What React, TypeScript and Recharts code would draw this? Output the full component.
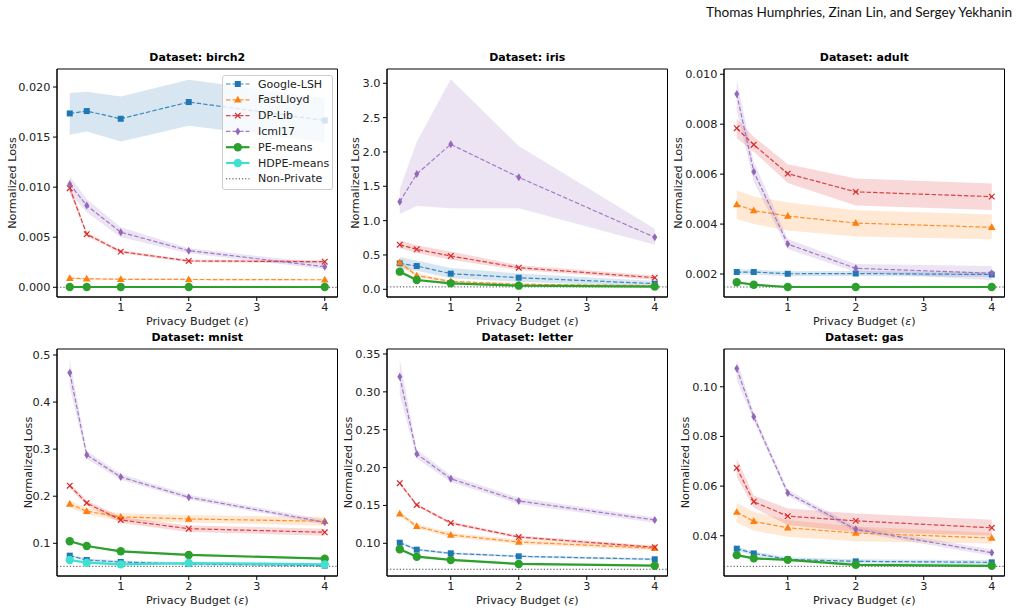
import React from "react";
import {
  ComposedChart,
  Line,
  Area,
  XAxis,
  YAxis,
  ReferenceLine,
  ReferenceArea,
} from "recharts";

// privacy budgets on the x axis
const EPS = [0.25, 0.5, 1, 2, 4];
const X_TICKS = [1, 2, 3, 4];
const X_DOMAIN: [number, number] = [0.0625, 4.1875];

// ---- birch2 ----
const birch2Lsh = [0.01736, 0.0176, 0.01683, 0.0185, 0.01666];
const birch2LshBand = [[0.01523, 0.0194], [0.01556, 0.01953], [0.01456, 0.01906], [0.01613, 0.02073], [0.01446, 0.0189]];
const birch2Fast = [0.0009, 0.00085, 0.0008, 0.00078, 0.00075];
const birch2FastBand = [[0.0008, 0.001], [0.00077, 0.00093], [0.00073, 0.00087], [0.0007, 0.00086], [0.00068, 0.00082]];
const birch2Dplib = [0.0099, 0.0053, 0.00356, 0.00263, 0.00256];
const birch2DplibBand = [[0.0095, 0.0103], [0.0051, 0.0055], [0.0034, 0.0037], [0.0025, 0.00275], [0.0024, 0.0027]];
const birch2Icml = [0.0103, 0.00816, 0.0055, 0.00366, 0.00206];
const birch2IcmlBand = [[0.0094, 0.0111], [0.0075, 0.0088], [0.005, 0.006], [0.0034, 0.0039], [0.0018, 0.0024]];
const birch2Pe = [0.00003, 0.00003, 0.00003, 0.00003, 0.00003];
const birch2PeBand = [[0.0, 0.00006], [0.0, 0.00006], [0.0, 0.00006], [0.0, 0.00006], [0.0, 0.00006]];
const birch2NonPrivate = 0.0;

// ---- iris ----
const irisLsh = [0.378, 0.339, 0.228, 0.169, 0.082];
const irisLshBand = [[0.3, 0.47], [0.27, 0.42], [0.16, 0.31], [0.11, 0.23], [0.04, 0.12]];
const irisFast = [0.39, 0.199, 0.116, 0.073, 0.053];
const irisFastBand = [[0.35, 0.43], [0.17, 0.23], [0.1, 0.13], [0.06, 0.085], [0.045, 0.06]];
const irisDplib = [0.65, 0.582, 0.485, 0.315, 0.169];
const irisDplibBand = [[0.6, 0.71], [0.53, 0.64], [0.43, 0.55], [0.28, 0.35], [0.14, 0.2]];
const irisIcml = [1.276, 1.679, 2.111, 1.631, 0.757];
const irisIcmlBand = [[1.097, 1.456], [1.213, 2.15], [1.179, 3.058], [1.18, 2.087], [0.65, 0.883]];
const irisPe = [0.257, 0.135, 0.087, 0.053, 0.039];
const irisPeBand = [[0.235, 0.28], [0.115, 0.155], [0.075, 0.1], [0.045, 0.062], [0.032, 0.046]];
const irisNonPrivate = 0.035;

// ---- adult ----
const adultLsh = [0.00208, 0.00208, 0.00201, 0.00202, 0.00198];
const adultLshBand = [[0.00198, 0.00218], [0.00198, 0.00218], [0.00191, 0.00211], [0.00192, 0.00212], [0.00188, 0.00208]];
const adultFast = [0.00478, 0.00454, 0.00432, 0.00404, 0.00387];
const adultFastBand = [[0.0042, 0.00534], [0.004, 0.0051], [0.00374, 0.00486], [0.0035, 0.00455], [0.00339, 0.00438]];
const adultDplib = [0.00784, 0.00718, 0.00602, 0.00529, 0.0051];
const adultDplibBand = [[0.00745, 0.00822], [0.0069, 0.0075], [0.00565, 0.0064], [0.00474, 0.00583], [0.00456, 0.00563]];
const adultIcml = [0.00921, 0.0061, 0.0032, 0.00223, 0.00203];
const adultIcmlBand = [[0.00857, 0.00977], [0.0057, 0.0065], [0.003, 0.0034], [0.00208, 0.0024], [0.00175, 0.00232]];
const adultPe = [0.00167, 0.00157, 0.00148, 0.00148, 0.00148];
const adultPeBand = [[0.00157, 0.00175], [0.00152, 0.00162], [0.00145, 0.00151], [0.00145, 0.00151], [0.00145, 0.00151]];
const adultNonPrivate = 0.00148;

// ---- mnist ----
const mnistLsh = [0.0737, 0.0645, 0.0603, 0.056, 0.0525];
const mnistLshBand = [[0.0707, 0.0767], [0.0615, 0.0675], [0.0573, 0.0633], [0.053, 0.059], [0.0495, 0.0555]];
const mnistFast = [0.1835, 0.168, 0.156, 0.1517, 0.1467];
const mnistFastBand = [[0.176, 0.191], [0.161, 0.175], [0.148, 0.164], [0.144, 0.16], [0.138, 0.156]];
const mnistDplib = [0.2224, 0.1856, 0.1495, 0.131, 0.1234];
const mnistDplibBand = [[0.217, 0.228], [0.18, 0.191], [0.143, 0.156], [0.124, 0.138], [0.116, 0.131]];
const mnistIcml = [0.462, 0.2876, 0.2408, 0.1977, 0.1446];
const mnistIcmlBand = [[0.4326, 0.491], [0.279, 0.296], [0.235, 0.247], [0.193, 0.203], [0.14, 0.15]];
const mnistPe = [0.1042, 0.0943, 0.083, 0.0752, 0.0674];
const mnistPeBand = [[0.1022, 0.1062], [0.0923, 0.0963], [0.081, 0.085], [0.0732, 0.0772], [0.0654, 0.0694]];
const mnistHdpe = [0.0645, 0.0588, 0.0553, 0.058, 0.0553];
const mnistHdpeBand = [[0.0615, 0.0675], [0.0558, 0.0618], [0.0523, 0.0583], [0.055, 0.061], [0.0523, 0.0583]];
const mnistNonPrivate = 0.0511;

// ---- letter ----
const letterLsh = [0.1008, 0.0916, 0.0868, 0.0828, 0.0789];
const letterLshBand = [[0.0993, 0.1023], [0.0901, 0.0931], [0.0853, 0.0883], [0.0813, 0.0843], [0.0774, 0.0804]];
const letterFast = [0.139, 0.1224, 0.111, 0.1017, 0.0934];
const letterFastBand = [[0.136, 0.142], [0.1194, 0.1254], [0.108, 0.114], [0.0987, 0.1047], [0.0904, 0.0964]];
const letterDplib = [0.1793, 0.1506, 0.1268, 0.1083, 0.0947];
const letterDplibBand = [[0.1773, 0.1813], [0.1486, 0.1526], [0.1248, 0.1288], [0.1063, 0.1103], [0.0927, 0.0967]];
const letterIcml = [0.32, 0.218, 0.1853, 0.1559, 0.1308];
const letterIcmlBand = [[0.296, 0.343], [0.212, 0.224], [0.181, 0.19], [0.152, 0.16], [0.127, 0.134]];
const letterPe = [0.0921, 0.0823, 0.078, 0.0727, 0.0704];
const letterPeBand = [[0.0906, 0.0936], [0.0808, 0.0838], [0.0765, 0.0795], [0.0712, 0.0742], [0.0689, 0.0719]];
const letterNonPrivate = 0.0657;

// ---- gas ----
const gasLsh = [0.0348, 0.0329, 0.0305, 0.0297, 0.0293];
const gasLshBand = [[0.034, 0.0356], [0.0321, 0.0337], [0.0297, 0.0313], [0.0289, 0.0305], [0.0285, 0.0301]];
const gasFast = [0.0495, 0.0458, 0.0432, 0.0411, 0.0391];
const gasFastBand = [[0.0454, 0.0532], [0.042, 0.0496], [0.0396, 0.0463], [0.0378, 0.0437], [0.0369, 0.0412]];
const gasDplib = [0.0673, 0.0537, 0.0479, 0.046, 0.0432];
const gasDplibBand = [[0.0638, 0.071], [0.0513, 0.0562], [0.0443, 0.051], [0.0415, 0.049], [0.0401, 0.0464]];
const gasIcml = [0.1073, 0.0879, 0.0572, 0.0426, 0.0332];
const gasIcmlBand = [[0.1027, 0.111], [0.0862, 0.0895], [0.056, 0.0585], [0.0415, 0.0437], [0.032, 0.0345]];
const gasPe = [0.0322, 0.0309, 0.0303, 0.0283, 0.0279];
const gasPeBand = [[0.0317, 0.0327], [0.0304, 0.0314], [0.0298, 0.0308], [0.0278, 0.0288], [0.0274, 0.0284]];
const gasNonPrivate = 0.0277;

type MethodKey = "lsh" | "fast" | "dplib" | "icml" | "pe" | "hdpe";

const METHODS: Record<MethodKey, { name: string; color: string; marker: string; dashed: boolean }> = {
  lsh: { name: "Google-LSH", color: "#1f77b4", marker: "square", dashed: true },
  fast: { name: "FastLloyd", color: "#ff7f0e", marker: "triangle", dashed: true },
  dplib: { name: "DP-Lib", color: "#d62728", marker: "x", dashed: true },
  icml: { name: "Icml17", color: "#9467bd", marker: "diamond", dashed: true },
  pe: { name: "PE-means", color: "#2ca02c", marker: "circle", dashed: false },
  hdpe: { name: "HDPE-means", color: "#40e0d0", marker: "circle", dashed: false },
};
const ORDER: MethodKey[] = ["lsh", "fast", "dplib", "icml", "pe", "hdpe"];

const FONT = "'DejaVu Sans', sans-serif";
const TEXT = "#222";
const TICK_FONT = 11.3;

function drawMarker(marker: string, color: string, cx: number, cy: number, key?: any) {
  switch (marker) {
    case "square":
      return <rect key={key} x={cx - 3} y={cy - 3} width={6} height={6} fill={color} />;
    case "triangle":
      return <polygon key={key} points={`${cx},${cy - 4} ${cx + 3.8},${cy + 2.7} ${cx - 3.8},${cy + 2.7}`} fill={color} />;
    case "x":
      return (
        <g key={key} stroke={color} strokeWidth={1.2}>
          <line x1={cx - 2.8} y1={cy - 2.8} x2={cx + 2.8} y2={cy + 2.8} />
          <line x1={cx - 2.8} y1={cy + 2.8} x2={cx + 2.8} y2={cy - 2.8} />
        </g>
      );
    case "diamond":
      return <polygon key={key} points={`${cx},${cy - 4} ${cx + 2.5},${cy} ${cx},${cy + 4} ${cx - 2.5},${cy}`} fill={color} />;
    default:
      return <circle key={key} cx={cx} cy={cy} r={4.2} fill={color} />;
  }
}

const makeDot = (marker: string, color: string) => (p: any) => {
  if (p.cx == null || p.cy == null) return <g key={p.index} />;
  return drawMarker(marker, color, p.cx, p.cy, p.index);
};

type Series = { key: MethodKey; mean: number[]; band: number[][] };

type Panel = {
  title: string;
  col: number;
  row: number;
  domain: [number, number];
  ticks: number[];
  digits: number;
  labelOffset: number;
  nonPrivate: number;
  series: Series[];
};

const panels: Panel[] = [
  {
    title: "birch2", col: 0, row: 0, domain: [-0.00097, 0.0218], ticks: [0, 0.005, 0.01, 0.015, 0.02], digits: 3, labelOffset: 45, nonPrivate: birch2NonPrivate,
    series: [
      { key: "lsh", mean: birch2Lsh, band: birch2LshBand },
      { key: "fast", mean: birch2Fast, band: birch2FastBand },
      { key: "dplib", mean: birch2Dplib, band: birch2DplibBand },
      { key: "icml", mean: birch2Icml, band: birch2IcmlBand },
      { key: "pe", mean: birch2Pe, band: birch2PeBand },
    ],
  },
  {
    title: "iris", col: 1, row: 0, domain: [-0.112, 3.208], ticks: [0, 0.5, 1, 1.5, 2, 2.5, 3], digits: 1, labelOffset: 32, nonPrivate: irisNonPrivate,
    series: [
      { key: "lsh", mean: irisLsh, band: irisLshBand },
      { key: "fast", mean: irisFast, band: irisFastBand },
      { key: "dplib", mean: irisDplib, band: irisDplibBand },
      { key: "icml", mean: irisIcml, band: irisIcmlBand },
      { key: "pe", mean: irisPe, band: irisPeBand },
    ],
  },
  {
    title: "adult", col: 2, row: 0, domain: [0.00108, 0.01021], ticks: [0.002, 0.004, 0.006, 0.008, 0.01], digits: 3, labelOffset: 46, nonPrivate: adultNonPrivate,
    series: [
      { key: "lsh", mean: adultLsh, band: adultLshBand },
      { key: "fast", mean: adultFast, band: adultFastBand },
      { key: "dplib", mean: adultDplib, band: adultDplibBand },
      { key: "icml", mean: adultIcml, band: adultIcmlBand },
      { key: "pe", mean: adultPe, band: adultPeBand },
    ],
  },
  {
    title: "mnist", col: 0, row: 1, domain: [0.0305, 0.5127], ticks: [0.1, 0.2, 0.3, 0.4, 0.5], digits: 1, labelOffset: 29, nonPrivate: mnistNonPrivate,
    series: [
      { key: "lsh", mean: mnistLsh, band: mnistLshBand },
      { key: "fast", mean: mnistFast, band: mnistFastBand },
      { key: "dplib", mean: mnistDplib, band: mnistDplibBand },
      { key: "icml", mean: mnistIcml, band: mnistIcmlBand },
      { key: "pe", mean: mnistPe, band: mnistPeBand },
      { key: "hdpe", mean: mnistHdpe, band: mnistHdpeBand },
    ],
  },
  {
    title: "letter", col: 1, row: 1, domain: [0.0568, 0.3566], ticks: [0.1, 0.15, 0.2, 0.25, 0.3, 0.35], digits: 2, labelOffset: 39, nonPrivate: letterNonPrivate,
    series: [
      { key: "lsh", mean: letterLsh, band: letterLshBand },
      { key: "fast", mean: letterFast, band: letterFastBand },
      { key: "dplib", mean: letterDplib, band: letterDplibBand },
      { key: "icml", mean: letterIcml, band: letterIcmlBand },
      { key: "pe", mean: letterPe, band: letterPeBand },
    ],
  },
  {
    title: "gas", col: 2, row: 1, domain: [0.0238, 0.1152], ticks: [0.04, 0.06, 0.08, 0.1], digits: 2, labelOffset: 39, nonPrivate: gasNonPrivate,
    series: [
      { key: "lsh", mean: gasLsh, band: gasLshBand },
      { key: "fast", mean: gasFast, band: gasFastBand },
      { key: "dplib", mean: gasDplib, band: gasDplibBand },
      { key: "icml", mean: gasIcml, band: gasIcmlBand },
      { key: "pe", mean: gasPe, band: gasPeBand },
    ],
  },
];

// layout of the 3x2 grid
const CHART_W = 340;
const Y_AXIS_W = 57;
const COL_LEFT = [0, 330, 667];
const ROWS = [
  { top: 40, height: 290, marginTop: 29, marginBottom: 3 },
  { top: 330, height: 283, marginTop: 19, marginBottom: 7 },
];

const PanelChart = ({ p }: { p: Panel }) => {
  const rowCfg = ROWS[p.row];
  const data = EPS.map((eps, i) => {
    const row: any = { eps };
    p.series.forEach((s) => {
      row[s.key] = s.mean[i];
      row[s.key + "Band"] = s.band[i];
    });
    return row;
  });
  const left = COL_LEFT[p.col];
  const plotW = CHART_W - Y_AXIS_W - 2.5;

  return (
    <div style={{ position: "absolute", left, top: rowCfg.top, width: CHART_W, height: rowCfg.height }}>
      <div
        style={{
          position: "absolute",
          left: Y_AXIS_W,
          width: plotW,
          top: rowCfg.marginTop - 18,
          textAlign: "center",
          fontFamily: FONT,
          fontWeight: "bold",
          fontSize: 11,
          color: "#000",
        }}
      >
        Dataset: {p.title}
      </div>
      <ComposedChart
        width={CHART_W}
        height={rowCfg.height}
        data={data}
        margin={{ top: rowCfg.marginTop, right: 2.5, bottom: rowCfg.marginBottom, left: 0 }}
        style={{ fontFamily: FONT }}
      >
        <XAxis
          type="number"
          dataKey="eps"
          domain={X_DOMAIN}
          ticks={X_TICKS}
          allowDataOverflow
          height={30}
          tickSize={4}
          tickMargin={2}
          stroke="#000"
          tick={{ fontSize: TICK_FONT, fill: TEXT }}
          label={(props: any) => {
            const vb = props.viewBox;
            const cx = vb.x + vb.width / 2;
            return (
              <text x={cx} y={vb.y + 24} textAnchor="middle" dominantBaseline="central" fontSize={11.2} fill={TEXT}>
                Privacy Budget (<tspan fontStyle="italic">ε</tspan>)
              </text>
            );
          }}
        />
        <YAxis
          type="number"
          domain={p.domain}
          ticks={p.ticks}
          allowDataOverflow
          width={Y_AXIS_W}
          tickSize={4}
          tickMargin={2.5}
          stroke="#000"
          tick={{ fontSize: TICK_FONT, fill: TEXT }}
          tickFormatter={(v: number) => v.toFixed(p.digits)}
          label={(props: any) => {
            const vb = props.viewBox;
            const cx = vb.x + vb.width - p.labelOffset;
            const cy = vb.y + vb.height / 2;
            return (
              <text
                x={cx}
                y={cy}
                transform={`rotate(-90 ${cx} ${cy})`}
                textAnchor="middle"
                dominantBaseline="central"
                fontSize={11.2}
                fill={TEXT}
              >
                Normalized Loss
              </text>
            );
          }}
        />
        {p.series.map((s) => (
          <Area
            key={s.key + "-band"}
            type="linear"
            dataKey={s.key + "Band"}
            stroke="none"
            fill={METHODS[s.key].color}
            fillOpacity={0.18}
            dot={false}
            activeDot={false}
            isAnimationActive={false}
          />
        ))}
        <ReferenceLine y={p.nonPrivate} stroke="#444" strokeWidth={1} strokeDasharray="1.2 2" />
        {p.series.map((s) => {
          const m = METHODS[s.key];
          return (
            <Line
              key={s.key}
              type="linear"
              dataKey={s.key}
              stroke={m.color}
              strokeWidth={m.dashed ? 1.2 : 2.2}
              strokeDasharray={m.dashed ? "4.5 2" : undefined}
              strokeOpacity={m.dashed ? 0.85 : 1}
              dot={makeDot(m.marker, m.color)}
              activeDot={false}
              isAnimationActive={false}
            />
          );
        })}
        <ReferenceArea
          x1={X_DOMAIN[0]}
          x2={X_DOMAIN[1]}
          y1={p.domain[0]}
          y2={p.domain[1]}
          fill="none"
          stroke="#000"
          strokeWidth={1}
          ifOverflow="extendDomain"
        />
      </ComposedChart>
    </div>
  );
};

const LEGEND_ROWS = [...ORDER, "nonPrivate"];

const Legend = () => (
  <svg
    style={{ position: "absolute", left: 222, top: 75 }}
    width={111}
    height={115}
    fontFamily={FONT}
  >
    <rect x={0.5} y={0.5} width={110} height={114} rx={2.5} fill="rgba(255,255,255,0.8)" stroke="#ccc" />
    {LEGEND_ROWS.map((k, i) => {
      const y = 9 + i * 15.8;
      if (k === "nonPrivate") {
        return (
          <g key={k}>
            <line x1={4} x2={27.5} y1={y} y2={y} stroke="#444" strokeDasharray="1.2 2" />
            <text x={36} y={y} dominantBaseline="central" fontSize={11} fill={TEXT}>Non-Private</text>
          </g>
        );
      }
      const m = METHODS[k as MethodKey];
      return (
        <g key={k}>
          <line
            x1={4}
            x2={27.5}
            y1={y}
            y2={y}
            stroke={m.color}
            strokeWidth={m.dashed ? 1.2 : 2.2}
            strokeDasharray={m.dashed ? "4.5 2" : undefined}
            strokeOpacity={m.dashed ? 0.85 : 1}
          />
          {drawMarker(m.marker, m.color, 15.8, y)}
          <text x={36} y={y} dominantBaseline="central" fontSize={11} fill={TEXT}>{m.name}</text>
        </g>
      );
    })}
  </svg>
);

export default function App() {
  return (
    <div style={{ position: "absolute", left: 0, top: 0, width: 1016, height: 613, background: "#fff", overflow: "hidden" }}>
      <div
        style={{
          position: "absolute",
          right: 4,
          top: 4,
          fontFamily: "Lato, 'Open Sans', sans-serif",
          fontSize: 13.6,
          color: "#111",
          whiteSpace: "nowrap",
        }}
      >
        Thomas Humphries, Zinan Lin, and Sergey Yekhanin
      </div>
      {panels.map((p) => (
        <PanelChart key={p.title} p={p} />
      ))}
      <Legend />
    </div>
  );
}
